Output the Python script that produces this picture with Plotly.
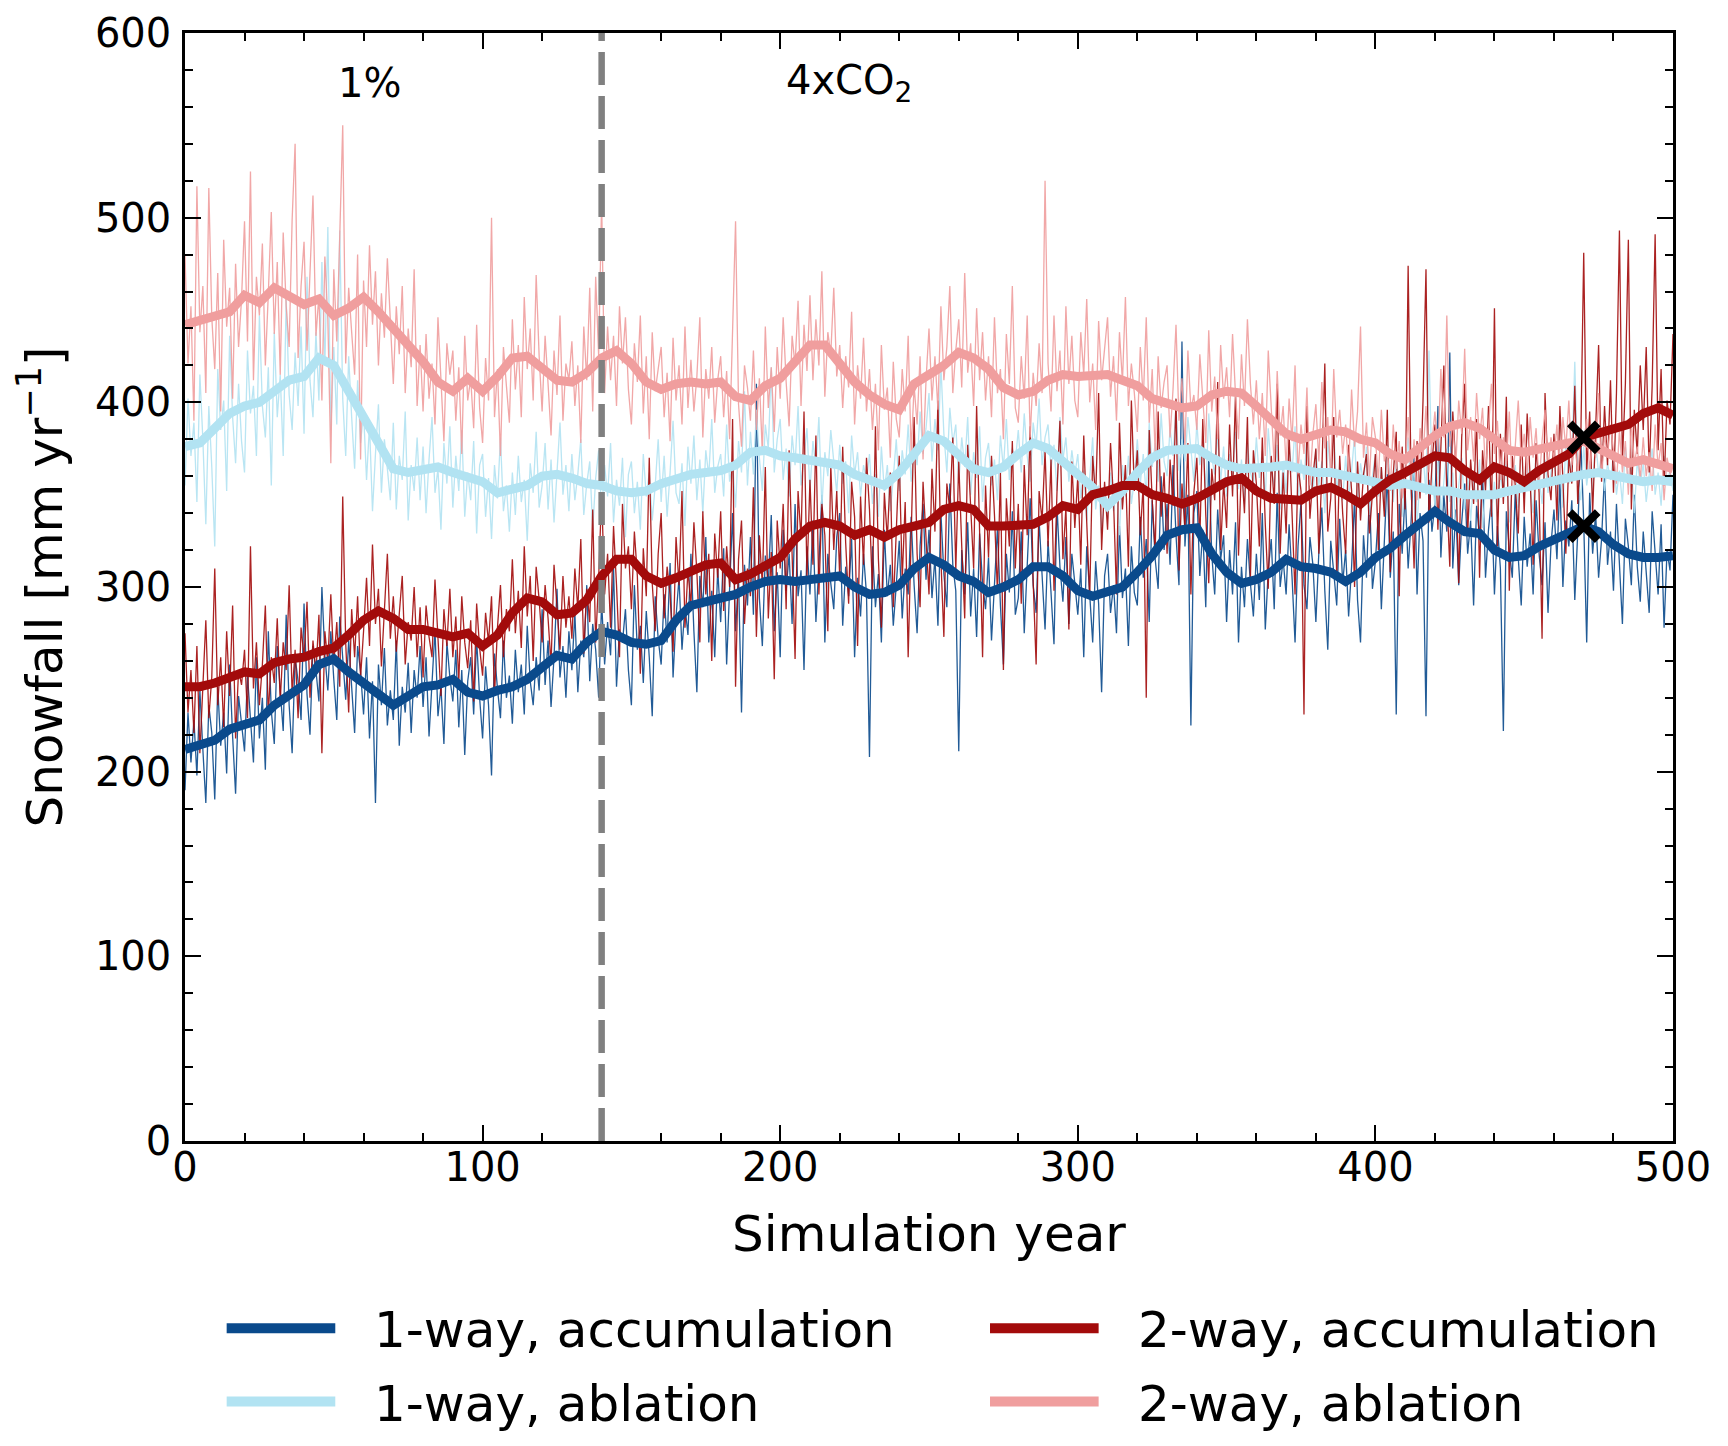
import plotly.graph_objects as go

# annual values (thin lines)
years = list(range(0, 501))

acc_1way = [
    190, 232, 205, 228, 198, 244, 212, 183, 236, 221, 185, 246, 214, 232, 199, 258, 219, 188, 241, 226,
    211, 252, 230, 205, 262, 218, 240, 201, 276, 233, 215, 268, 244, 222, 285, 236, 210, 262, 249, 228,
    291, 242, 220, 268, 255, 238, 300, 263, 244, 276, 250, 228, 284, 262, 239, 271, 246, 221, 268, 254,
    231, 262, 218, 249, 183, 258, 236, 267, 225, 244, 228, 271, 214, 246, 232, 259, 221, 255, 240, 268,
    235, 262, 219, 252, 277, 230, 246, 215, 270, 251, 238, 266, 224, 255, 209, 249, 262, 231, 272, 240,
    218, 257, 236, 198, 264, 245, 229, 271, 240, 252, 226, 266, 243, 258, 231, 279, 249, 236, 262, 244,
    288, 247, 271, 235, 262, 299, 251, 268, 240, 276, 255, 286, 243, 271, 262, 301, 249, 280, 266, 240,
    292, 258, 281, 263, 310, 246, 277, 270, 288, 255, 236, 301, 266, 279, 248, 287, 262, 230, 295, 272,
    258, 296, 270, 313, 251, 284, 305, 266, 290, 274, 318, 276, 243, 306, 289, 327, 270, 298, 262, 310,
    281, 321, 258, 299, 340, 276, 305, 232, 312, 290, 327, 285, 410, 294, 268, 317, 302, 339, 276, 308,
    262, 331, 298, 318, 280, 345, 295, 309, 255, 322, 296, 336, 281, 312, 350, 270, 318, 302, 288, 327,
    340, 279, 311, 295, 326, 262, 305, 284, 318, 296, 208, 322, 289, 307, 270, 331, 295, 312, 279, 301,
    325, 283, 310, 296, 338, 301, 275, 322, 345, 304, 331, 294, 316, 279, 340, 307, 289, 356, 312, 298,
    211, 320, 296, 335, 284, 310, 273, 329, 302, 288, 316, 271, 304, 332, 290, 258, 318, 297, 341, 285,
    294, 330, 275, 312, 348, 301, 286, 336, 309, 277, 325, 298, 269, 344, 311, 292, 327, 280, 318, 302,
    285, 310, 262, 322, 296, 270, 314, 291, 243, 306, 318, 286, 301, 275, 333, 294, 310, 268, 322, 297,
    290, 338, 305, 326, 281, 347, 315, 299, 360, 320, 345, 312, 366, 328, 301, 433, 322, 350, 225, 340,
    352, 306, 331, 289, 371, 318, 296, 342, 315, 328, 281, 320, 296, 335, 270, 311, 289, 326, 302, 284,
    318, 293, 340, 277, 309, 326, 288, 351, 300, 315, 296, 334, 305, 270, 322, 346, 301, 288, 327, 312,
    281, 319, 343, 298, 266, 325, 308, 290, 337, 302, 320, 284, 311, 348, 293, 270, 328, 305, 352, 299,
    314, 340, 288, 326, 361, 305, 330, 231, 345, 318, 352, 310, 336, 371, 296, 340, 325, 230, 358, 330,
    345, 398, 316, 350, 330, 427, 310, 342, 301, 335, 356, 318, 336, 290, 344, 327, 362, 305, 331, 348,
    296, 333, 310, 222, 341, 320, 305, 352, 316, 290, 338, 311, 329, 296, 347, 318, 301, 335, 286, 323,
    342, 315, 358, 300, 336, 322, 347, 293, 330, 381, 335, 270, 351, 318, 340, 305, 326, 362, 312, 330,
    298, 345, 316, 280, 337, 322, 301, 350, 311, 292, 330, 305, 286, 341, 318, 296, 334, 278, 320, 309,
    350,
]

abl_1way = [
    355, 402, 371, 389, 346, 415, 380, 334, 398, 365, 322, 418, 385, 401, 352, 436, 392, 367, 410, 379,
    362, 428, 394, 409, 371, 447, 398, 381, 419, 355, 438, 392, 415, 371, 456, 404, 385, 427, 398, 441,
    383, 468, 412, 392, 438, 401, 476, 420, 495, 385, 430, 388, 493, 402, 371, 425, 392, 364, 412, 378,
    395, 358, 388, 341, 372, 399, 351, 380, 364, 347, 389, 342, 371, 358, 395, 336, 366, 352, 381, 347,
    376, 340, 369, 392, 351, 364, 331, 378, 356, 387, 343, 371, 352, 385, 338, 362, 347, 379, 329, 366,
    372, 338, 359, 326, 366, 348, 381, 341, 355, 330, 362, 339, 371, 346, 358, 325, 367, 351, 384, 343,
    355, 378, 342, 369, 335, 364, 389, 350, 366, 341, 372, 347, 361, 380, 339, 356, 368, 331, 359, 374,
    340, 366, 349, 378, 335, 358, 344, 370, 327, 361, 368, 340, 357, 331, 372, 349, 362, 336, 355, 380,
    346, 371, 338, 362, 390, 351, 345, 367, 333, 376, 356, 382, 347, 369, 340, 374, 360, 391, 351, 365,
    372, 349, 388, 357, 368, 343, 379, 362, 406, 355, 384, 361, 396, 370, 352, 388, 375, 419, 362, 380,
    391, 358, 375, 349, 382, 366, 398, 355, 371, 386, 352, 379, 364, 392, 343, 373, 360, 385, 368, 351,
    377, 356, 368, 340, 382, 361, 373, 349, 366, 358, 372, 345, 361, 338, 376, 352, 366, 341, 359, 380,
    352, 374, 361, 388, 357, 379, 366, 395, 372, 386, 405, 368, 391, 374, 420, 383, 362, 397, 378, 388,
    356, 381, 365, 392, 350, 373, 359, 387, 346, 370, 378, 355, 369, 347, 382, 364, 391, 358, 375, 368,
    385, 362, 394, 371, 357, 389, 376, 402, 366, 381, 388, 364, 377, 352, 392, 369, 381, 357, 374, 361,
    372, 348, 363, 336, 359, 381, 342, 355, 329, 350, 337, 362, 341, 355, 328, 366, 349, 371, 345, 358,
    380, 356, 372, 349, 389, 365, 378, 357, 394, 368, 360, 386, 371, 398, 363, 380, 368, 392, 375, 357,
    389, 366, 378, 352, 394, 370, 361, 383, 357, 376, 349, 372, 360, 384, 353, 369, 345, 378, 362, 356,
    381, 359, 374, 348, 386, 363, 355, 377, 342, 368, 351, 376, 362, 387, 345, 369, 358, 381, 366, 349,
    374, 355, 368, 340, 379, 361, 386, 352, 365, 347, 371, 348, 363, 382, 344, 367, 356, 376, 339, 360,
    372, 349, 365, 341, 377, 358, 346, 369, 353, 338, 363, 381, 347, 366, 334, 359, 372, 350, 428, 361,
    344, 368, 339, 357, 375, 346, 362, 331, 355, 370, 342, 361, 336, 358, 346, 369, 332, 354, 365, 340,
    357, 338, 362, 349, 371, 335, 355, 366, 343, 360, 348, 367, 352, 340, 374, 358, 345, 369, 351, 362,
    372, 350, 366, 343, 378, 356, 369, 422, 361, 347, 376, 355, 368, 349, 380, 361, 372, 352, 367, 358,
    371, 350, 363, 345, 376, 358, 366, 340, 369, 355, 367, 346, 361, 375, 350, 362, 344, 371, 356, 363,
    352,
]

acc_2way = [
    275, 232, 255, 221, 268, 210, 246, 282, 229, 251, 310, 236, 262, 224, 276, 241, 290, 218, 255, 247,
    266, 229, 322, 245, 270, 236, 258, 290, 231, 262, 248, 283, 238, 270, 255, 301, 242, 266, 229, 278,
    262, 292, 240, 271, 253, 285, 210, 276, 259, 296, 258, 281, 246, 349, 270, 232, 288, 262, 295, 251,
    276, 305, 268, 323, 280, 299, 257, 287, 318, 272, 295, 265, 284, 306, 258, 281, 271, 300, 262, 289,
    251, 290, 273, 262, 304, 276, 241, 288, 268, 299, 262, 284, 249, 295, 270, 256, 282, 238, 291, 267,
    252, 286, 270, 295, 241, 278, 301, 262, 288, 276, 315, 275, 298, 267, 322, 284, 306, 260, 311, 293,
    270, 301, 283, 258, 312, 289, 266, 306, 278, 295, 272, 310, 288, 326, 264, 299, 281, 342, 270, 305,
    351, 296, 318, 278, 333, 301, 262, 345, 310, 322, 288, 330, 306, 253, 321, 295, 370, 302, 276, 318,
    340, 283, 311, 296, 265, 327, 301, 352, 278, 309, 290, 335, 308, 270, 341, 296, 318, 260, 329, 305,
    341, 287, 322, 300, 391, 246, 315, 336, 280, 310, 295, 354, 273, 328, 301, 365, 283, 319, 250, 336,
    310, 345, 288, 374, 315, 261, 352, 326, 395, 305, 358, 312, 382, 296, 345, 328, 276, 366, 320, 352,
    305, 376, 324, 291, 357, 338, 268, 349, 312, 370, 342, 298, 387, 315, 278, 351, 326, 362, 289, 334,
    371, 304, 346, 262, 335, 392, 318, 289, 357, 328, 296, 364, 330, 401, 315, 273, 356, 342, 381, 309,
    368, 322, 283, 377, 345, 310, 398, 331, 262, 355, 316, 371, 339, 297, 362, 255, 348, 322, 379, 310,
    345, 291, 366, 328, 387, 303, 258, 352, 336, 374, 322, 369, 298, 351, 390, 315, 343, 277, 368, 332,
    360, 312, 382, 335, 294, 371, 348, 405, 320, 357, 331, 378, 347, 296, 389, 342, 366, 311, 401, 352,
    374, 328, 356, 240, 385, 347, 319, 395, 338, 362, 318, 369, 344, 402, 309, 356, 331, 378, 296, 351,
    370, 325, 391, 339, 302, 364, 347, 411, 320, 357, 332, 388, 349, 405, 317, 366, 340, 392, 305, 374,
    356, 322, 381, 334, 299, 371, 345, 410, 318, 362, 329, 383, 341, 296, 366, 352, 231, 398, 337, 360,
    375, 318, 362, 421, 330, 348, 392, 305, 371, 340, 318, 377, 352, 300, 368, 336, 361, 372, 329, 349,
    372, 320, 365, 338, 396, 308, 361, 384, 295, 376, 342, 474, 355, 310, 379, 348, 401, 472, 335, 366,
    388, 331, 372, 420, 350, 311, 395, 366, 302, 381, 410, 328, 369, 345, 391, 305, 374, 352, 398, 338,
    451, 322, 383, 345, 403, 298, 371, 355, 329, 388, 340, 394, 359, 312, 378, 351, 272, 405, 361, 347,
    383, 336, 398, 362, 318, 371, 356, 409, 345, 378, 481, 362, 395, 340, 384, 431, 357, 398, 366, 412,
    351, 405, 493, 368, 410, 488, 342, 396, 372, 420, 385, 430, 362, 409, 491, 374, 418, 355, 401, 388,
    437,
]

abl_2way = [
    480, 421, 452, 390, 517, 438, 463, 405, 516, 446, 418, 470, 395, 488, 441, 462, 402, 475, 430, 456,
    498, 433, 525, 412, 468, 447, 486, 420, 459, 503, 437, 476, 415, 492, 452, 430, 499, 540, 424, 463,
    487, 428, 470, 512, 436, 458, 401, 479, 445, 367, 472, 433, 490, 550, 421, 462, 438, 415, 480, 369,
    466, 430, 485, 442, 471, 420, 459, 435, 478, 446, 410, 452, 426, 463, 405, 440, 419, 472, 398, 431,
    395, 437, 402, 421, 388, 446, 410, 379, 432, 415, 428, 390, 419, 372, 436, 401, 413, 386, 442, 397,
    378, 424, 401, 500, 392, 418, 371, 430, 409, 389, 445, 407, 431, 392, 457, 418, 440, 401, 469, 425,
    395, 436, 410, 382, 428, 404, 447, 390, 421, 412, 433, 398, 420, 378, 441, 412, 462, 395, 468, 425,
    509, 405, 441, 412, 436, 398, 452, 421, 446, 407, 388, 432, 411, 447, 394, 425, 380, 438, 406, 419,
    430, 392, 416, 379, 435, 401, 420, 388, 441, 397, 423, 395, 414, 446, 381, 418, 402, 430, 389, 412,
    425, 392, 417, 380, 433, 498, 399, 376, 420, 408, 390, 428, 385, 413, 372, 441, 397, 419, 384, 430,
    402, 446, 411, 387, 436, 420, 455, 398, 442, 417, 458, 412, 445, 420, 471, 403, 438, 426, 462, 414,
    431, 397, 425, 408, 449, 388, 420, 402, 435, 395, 418, 385, 410, 374, 431, 396, 408, 370, 422, 391,
    381, 418, 395, 436, 373, 409, 388, 425, 369, 412, 440, 401, 425, 396, 452, 412, 430, 463, 405, 428,
    445, 408, 470, 416, 432, 398, 451, 412, 438, 401, 425, 392, 446, 405, 418, 380, 437, 410, 463, 397,
    389, 425, 402, 447, 381, 416, 398, 432, 405, 520, 421, 395, 447, 406, 428, 388, 452, 410, 436, 401,
    392, 438, 415, 456, 400, 421, 385, 444, 412, 430, 446, 403, 425, 390, 438, 411, 457, 398, 421, 405,
    384, 430, 401, 446, 389, 418, 372, 425, 397, 411, 420, 381, 407, 442, 390, 413, 375, 428, 396, 404,
    385, 426, 401, 378, 439, 395, 414, 380, 431, 402, 419, 392, 437, 404, 380, 426, 398, 445, 410, 388,
    412, 380, 405, 371, 428, 394, 366, 417, 382, 398, 365, 402, 379, 420, 361, 388, 372, 408, 355, 383,
    399, 368, 411, 375, 392, 360, 418, 381, 396, 372, 388, 363, 407, 376, 395, 441, 370, 389, 358, 392,
    381, 357, 396, 368, 375, 352, 388, 364, 379, 348, 365, 392, 358, 380, 347, 386, 370, 398, 362, 378,
    395, 372, 418, 381, 447, 376, 390, 365, 401, 383, 429, 374, 392, 368, 405, 380, 397, 362, 388, 410,
    372, 390, 358, 381, 366, 395, 352, 377, 401, 369, 383, 361, 392, 370, 386, 355, 379, 396, 364, 381,
    369, 388, 357, 392, 375, 401, 366, 380, 360, 385, 378, 391, 362, 384, 370, 405, 359, 382, 371, 388,
    374, 356, 385, 362, 379, 350, 391, 367, 376, 358, 381, 360, 373, 352, 388, 365, 378, 347, 370, 362,
    355,
]

# running means (thick lines), every 5 years
years_smooth = list(range(0, 501, 5))

acc_1way_smooth = [
    212, 214, 217, 223, 226, 228, 236, 242, 247, 258, 261, 254, 248, 241, 236, 241, 246, 247, 250, 243,
    241, 244, 246, 250, 257, 263, 261, 270, 276, 274, 270, 269, 271, 282, 290, 292, 293, 296, 300, 303,
    304, 303, 304, 305, 306, 300, 296, 297, 301, 310, 316, 312, 306, 303, 297, 300, 304, 311, 311, 306,
    298, 295, 297, 300, 308, 317, 328, 331, 332, 318, 308, 302, 304, 308, 315, 311, 310, 308, 303, 308,
    316, 321, 328, 335, 341, 335, 330, 329, 320, 316, 317, 322, 326, 330, 333, 330, 323, 318, 316, 316,
    317,
]

abl_1way_smooth = [
    376, 378, 386, 394, 398, 400, 406, 412, 414, 424, 420, 406, 390, 378, 364, 362, 363, 365, 362, 359,
    357, 351, 353, 355, 360, 361, 359, 356, 355, 352, 351, 352, 356, 359, 361, 362, 363, 366, 373, 374,
    371, 370, 369, 367, 366, 361, 358, 355, 362, 372, 382, 379, 371, 364, 362, 365, 372, 378, 375, 368,
    362, 354, 344, 352, 362, 370, 374, 375, 375, 370, 366, 364, 364, 365, 366, 364, 362, 362, 360, 358,
    356, 355, 356, 354, 352, 352, 350, 350, 350, 352, 354, 356, 358, 360, 361, 362, 360, 358, 357, 358,
    357,
]

acc_2way_smooth = [
    246, 246, 248, 251, 254, 253, 259, 261, 262, 265, 267, 274, 282, 287, 283, 277, 277, 275, 273, 275,
    268, 274, 286, 294, 292, 285, 286, 293, 306, 315, 315, 306, 302, 305, 308, 312, 313, 304, 307, 311,
    316, 326, 333, 335, 333, 328, 331, 327, 331, 333, 335, 342, 344, 342, 333, 333, 333, 334, 338, 344,
    342, 350, 352, 355, 355, 350, 348, 345, 348, 353, 357, 359, 352, 348, 347, 347, 352, 354, 350, 345,
    352, 358, 362, 366, 371, 370, 363, 358, 365, 362, 357, 363, 367, 372, 381, 383, 386, 388, 394, 397,
    393,
]

abl_2way_smooth = [
    442, 444, 447, 449, 458, 454, 462, 458, 453, 456, 447, 451, 457, 449, 440, 431, 422, 411, 406, 413,
    406, 414, 424, 425, 418, 412, 411, 416, 424, 428, 421, 411, 407, 410, 411, 410, 411, 403, 401, 409,
    413, 422, 431, 431, 420, 411, 404, 399, 396, 410, 415, 420, 427, 424, 418, 408, 404, 406, 412, 415,
    414, 415, 415, 412, 409, 402, 400, 397, 398, 404, 406, 405, 398, 391, 383, 380, 383, 385, 384, 380,
    378, 372, 369, 376, 382, 387, 389, 386, 380, 374, 373, 375, 376, 378, 379, 375, 371, 367, 369, 367,
    364,
]

marker_year = [470, 470]
marker_vals = [381, 333]
switch_year = 140

names = ["1-way, accumulation", "1-way, ablation", "2-way, accumulation", "2-way, ablation"]
colors = ["#0a4a8c", "#b2e3f2", "#a30b0b", "#f09e9e"]

FONT = "DejaVu Sans"

fig = go.Figure()

raw = [acc_1way, abl_1way, acc_2way, abl_2way]
smooth = [acc_1way_smooth, abl_1way_smooth, acc_2way_smooth, abl_2way_smooth]

for vals, c, n in zip(raw, colors, names):
    fig.add_trace(go.Scatter(x=years, y=vals, mode="lines", name=n, showlegend=False,
                             line=dict(color=c, width=1.3), opacity=0.9, hoverinfo="skip"))

for vals, c, n in zip(smooth, colors, names):
    fig.add_trace(go.Scatter(x=years_smooth, y=vals, mode="lines", name=n, showlegend=False,
                             line=dict(color=c, width=9)))

fig.add_trace(go.Scatter(x=marker_year, y=marker_vals, mode="markers", showlegend=False,
                         marker=dict(symbol="x-thin", size=28, color="black",
                                     line=dict(color="black", width=8))))

# scenario switch
fig.add_shape(type="line", x0=switch_year, x1=switch_year, y0=0, y1=1, yref="y domain",
              line=dict(color="#808080", width=6.5, dash="33px,11px"), layer="above")

fig.add_annotation(x=62, y=573, text="1%", showarrow=False,
                   font=dict(family=FONT, size=40, color="black"))
fig.add_annotation(x=223, y=573, text="4xCO<sub>2</sub>", showarrow=False,
                   font=dict(family=FONT, size=40, color="black"))

# legend drawn by hand: two columns, two rows
leg_x = [(0.028, 0.101, 0.126), (0.028, 0.101, 0.126), (0.541, 0.614, 0.639), (0.541, 0.614, 0.639)]
leg_y = [-0.169, -0.235, -0.169, -0.235]
for (xa, xb, xt), yy, c, n in zip(leg_x, leg_y, colors, names):
    fig.add_shape(type="line", xref="paper", yref="paper", x0=xa, x1=xb, y0=yy, y1=yy,
                  line=dict(color=c, width=10))
    fig.add_annotation(xref="paper", yref="paper", x=xt, y=yy - 0.002, text=n, showarrow=False,
                       xanchor="left", yanchor="middle",
                       font=dict(family=FONT, size=50, color="black"))

axis_common = dict(
    showline=True, linecolor="black", linewidth=2.5, mirror="ticks",
    ticks="inside", ticklen=16, tickwidth=2, tickcolor="black",
    showgrid=False, zeroline=False, automargin=False,
    tickfont=dict(family=FONT, size=40, color="black"),
    minor=dict(ticks="inside", ticklen=8, tickwidth=1.5, tickcolor="black", dtick=20),
)

fig.update_xaxes(range=[0, 500], dtick=100, tick0=0, ticklabelstandoff=-11,
                 title=dict(text="Simulation year", font=dict(family=FONT, size=50, color="black"),
                            standoff=28),
                 **axis_common)
fig.update_yaxes(range=[0, 600], dtick=100, tick0=0, ticklabelstandoff=3,
                 title=dict(text="Snowfall [mm yr<sup>\u22121</sup>]",
                            font=dict(family=FONT, size=50, color="black"), standoff=17),
                 **axis_common)

# the page body adds 8 px on the left and top, so margins are trimmed by that
fig.update_layout(
    width=1728, height=1446,
    margin=dict(l=177, r=63, t=25, b=313),
    plot_bgcolor="white", paper_bgcolor="white",
    font=dict(family=FONT, color="black"),
)

fig.write_html("out.html")
